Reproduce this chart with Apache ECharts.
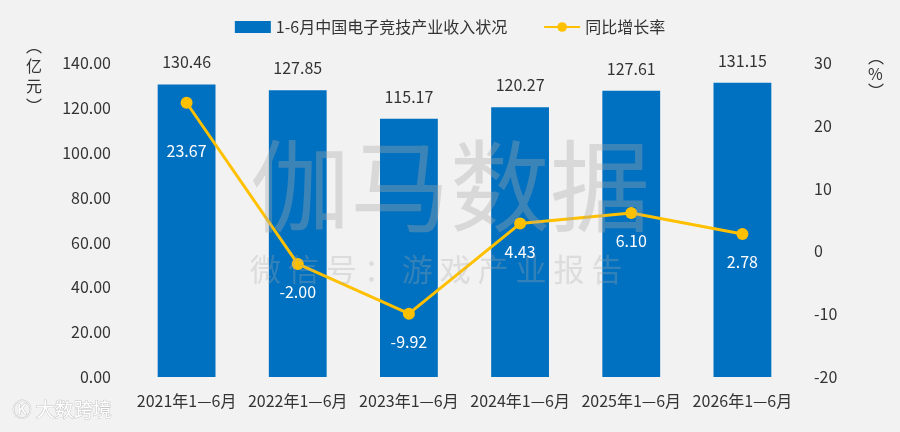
<!DOCTYPE html>
<html>
<head>
    <meta charset="utf-8">
    <script src="https://cdn.jsdelivr.net/npm/echarts@6/dist/echarts.min.js"></script>
    <style>
        html, body {margin: 0; padding: 0; background: #f2f2f2;}
    </style>
</head>
<body>
<div id="main" style="width: 900px;height:432px;"></div>
<script type="text/javascript">
    var categories = ['2021年1—6月', '2022年1—6月', '2023年1—6月', '2024年1—6月', '2025年1—6月', '2026年1—6月'];
    var revenue = [130.46, 127.85, 115.17, 120.27, 127.61, 131.15];
    var growth = [23.67, -2.00, -9.92, 4.43, 6.10, 2.78];
    var leftTicks = [0, 140, 20];   // min, max, interval
    var rightTicks = [-20, 30, 10];

    var myChart = echarts.init(document.getElementById('main'));
    var font = '"Noto Sans CJK SC", "Noto Sans", sans-serif';

    // first point's label sits a bit lower in the original
    var growthData = growth.map(function (v, i) {
        return i === 0 ? {value: v, label: {distance: 34}} : v;
    });

    myChart.setOption({
        backgroundColor: '#f2f2f2',
        color: ['#0070c0', '#ffc000'],
        textStyle: {fontFamily: font},
        legend: {
            top: 14,
            left: 'center',
            itemGap: 36,
            itemWidth: 36,
            itemHeight: 12,
            textStyle: {fontSize: 16, color: '#333'},
            data: [
                {name: '1-6月中国电子竞技产业收入状况', icon: 'rect'},
                {name: '同比增长率'}
            ]
        },
        grid: {left: 131, right: 102, top: 63, bottom: 55},
        xAxis: {
            type: 'category',
            data: categories,
            axisLine: {show: false},
            axisTick: {show: false},
            axisLabel: {fontSize: 16, color: '#333', margin: 16, interval: 0}
        },
        yAxis: [{
            type: 'value',
            min: leftTicks[0], max: leftTicks[1], interval: leftTicks[2],
            splitLine: {show: false},
            axisLabel: {fontSize: 16, color: '#333', margin: 20,
                formatter: function (v) { return v.toFixed(2); }}
        }, {
            type: 'value',
            min: rightTicks[0], max: rightTicks[1], interval: rightTicks[2],
            splitLine: {show: false},
            axisLabel: {fontSize: 16, color: '#333', margin: 16}
        }],
        graphic: [
            {type: 'text', left: 26, top: 36, style: {text: '︵\n亿\n元\n︶', font: '16px ' + font, fill: '#333', lineHeight: 20}},
            {type: 'text', left: 868, top: 48, style: {text: '︵\n%\n︶', font: '16px ' + font, fill: '#333', lineHeight: 17, align: 'center'}},
            {type: 'text', left: 250, top: 136, z: 100, style: {text: '伽马数据', font: '100px ' + font, fill: 'rgba(170,170,170,0.35)'}},
            {type: 'text', left: 250, top: 254, z: 100, style: {text: '微 信 号 ： 游 戏 产 业 报 告', font: '31px ' + font, fill: 'rgba(170,170,170,0.3)'}},
            {type: 'text', left: 12, top: 400, z: 100, style: {text: 'Ⓚ 大数跨境', font: '19px ' + font, fill: '#ffffff', stroke: '#c8c8c8', lineWidth: 1}}
        ],
        series: [{
            name: '1-6月中国电子竞技产业收入状况',
            type: 'bar',
            barWidth: '52%',
            data: revenue,
            label: {show: true, position: 'top', distance: 14, fontSize: 16, color: '#333',
                formatter: function (p) { return p.value.toFixed(2); }}
        }, {
            name: '同比增长率',
            type: 'line',
            yAxisIndex: 1,
            data: growthData,
            symbol: 'circle',
            symbolSize: 12,
            lineStyle: {width: 3},
            label: {show: true, position: 'bottom', distance: 14, fontSize: 16, color: '#ffffff',
                formatter: function (p) { return p.value.toFixed(2); }}
        }]
    });
</script>
</body>
</html>
